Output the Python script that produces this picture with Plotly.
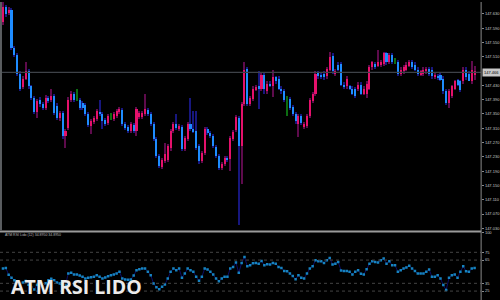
import plotly.graph_objects as go

# ---------------- data ----------------
open_ = [
    147.607, 147.649, 147.632, 147.641, 147.535, 147.516, 147.463, 147.424, 147.449, 147.471,
    147.427, 147.394, 147.355, 147.388, 147.377, 147.366, 147.394, 147.388, 147.399, 147.371,
    147.338, 147.352, 147.288, 147.310, 147.388, 147.405, 147.399, 147.388, 147.380, 147.374,
    147.349, 147.316, 147.327, 147.335, 147.355, 147.349, 147.332, 147.324, 147.341, 147.335,
    147.344, 147.355, 147.360, 147.321, 147.313, 147.302, 147.319, 147.302, 147.341, 147.341,
    147.349, 147.360, 147.349, 147.321, 147.280, 147.232, 147.202, 147.219, 147.221, 147.255,
    147.302, 147.321, 147.307, 147.313, 147.252, 147.280, 147.321, 147.307, 147.302, 147.260,
    147.219, 147.241, 147.307, 147.296, 147.288, 147.257, 147.232, 147.199, 147.210, 147.227,
    147.224, 147.280, 147.305, 147.338, 147.260, 147.377, 147.477, 147.377, 147.391, 147.419,
    147.427, 147.419, 147.460, 147.413, 147.435, 147.427, 147.452, 147.449, 147.421, 147.413,
    147.388, 147.391, 147.369, 147.349, 147.321, 147.344, 147.313, 147.316, 147.344, 147.385,
    147.405, 147.466, 147.460, 147.463, 147.455, 147.474, 147.513, 147.463, 147.488, 147.491,
    147.432, 147.427, 147.427, 147.421, 147.419, 147.419, 147.432, 147.407, 147.405, 147.421,
    147.480, 147.491, 147.485, 147.488, 147.491, 147.519, 147.496, 147.516, 147.502, 147.496,
    147.463, 147.469, 147.474, 147.485, 147.496, 147.488, 147.474, 147.460, 147.463, 147.469,
    147.477, 147.474, 147.455, 147.457, 147.460, 147.449, 147.413, 147.380, 147.399, 147.421,
    147.444, 147.441, 147.441, 147.474, 147.463, 147.441, 147.460,
]
close = [
    147.649, 147.630, 147.641, 147.535, 147.516, 147.463, 147.421, 147.449, 147.471, 147.427,
    147.394, 147.355, 147.385, 147.377, 147.366, 147.394, 147.385, 147.399, 147.352, 147.338,
    147.352, 147.288, 147.302, 147.388, 147.405, 147.388, 147.399, 147.366, 147.366, 147.349,
    147.319, 147.330, 147.338, 147.357, 147.349, 147.330, 147.321, 147.344, 147.341, 147.349,
    147.357, 147.363, 147.321, 147.310, 147.302, 147.321, 147.302, 147.363, 147.352, 147.352,
    147.363, 147.349, 147.321, 147.280, 147.232, 147.205, 147.221, 147.238, 147.260, 147.302,
    147.321, 147.310, 147.316, 147.252, 147.282, 147.321, 147.307, 147.302, 147.255, 147.219,
    147.241, 147.307, 147.296, 147.288, 147.260, 147.232, 147.199, 147.210, 147.227, 147.221,
    147.282, 147.299, 147.341, 147.260, 147.377, 147.474, 147.377, 147.394, 147.421, 147.424,
    147.419, 147.460, 147.419, 147.435, 147.430, 147.452, 147.441, 147.421, 147.413, 147.388,
    147.388, 147.366, 147.349, 147.330, 147.344, 147.324, 147.321, 147.344, 147.388, 147.405,
    147.463, 147.455, 147.455, 147.452, 147.477, 147.510, 147.469, 147.471, 147.474, 147.432,
    147.427, 147.449, 147.421, 147.407, 147.399, 147.432, 147.407, 147.421, 147.435, 147.482,
    147.494, 147.482, 147.496, 147.496, 147.519, 147.494, 147.516, 147.496, 147.502, 147.463,
    147.474, 147.482, 147.488, 147.496, 147.482, 147.474, 147.463, 147.469, 147.474, 147.477,
    147.463, 147.455, 147.460, 147.452, 147.446, 147.413, 147.380, 147.413, 147.427, 147.441,
    147.432, 147.416, 147.474, 147.452, 147.441, 147.474, 147.469,
]
high = [
    147.663, 147.655, 147.649, 147.646, 147.541, 147.521, 147.469, 147.457, 147.496, 147.477,
    147.432, 147.399, 147.391, 147.396, 147.382, 147.402, 147.399, 147.421, 147.405, 147.380,
    147.357, 147.357, 147.307, 147.396, 147.413, 147.410, 147.419, 147.394, 147.385, 147.380,
    147.355, 147.335, 147.344, 147.363, 147.388, 147.355, 147.338, 147.349, 147.352, 147.355,
    147.363, 147.369, 147.366, 147.327, 147.319, 147.327, 147.324, 147.369, 147.357, 147.357,
    147.405, 147.366, 147.355, 147.327, 147.285, 147.238, 147.227, 147.269, 147.266, 147.307,
    147.327, 147.349, 147.321, 147.319, 147.288, 147.327, 147.394, 147.357, 147.357, 147.266,
    147.246, 147.313, 147.313, 147.302, 147.294, 147.263, 147.238, 147.216, 147.232, 147.232,
    147.288, 147.305, 147.346, 147.344, 147.382, 147.496, 147.482, 147.399, 147.427, 147.430,
    147.469, 147.466, 147.466, 147.441, 147.441, 147.474, 147.457, 147.455, 147.427, 147.419,
    147.399, 147.396, 147.374, 147.355, 147.349, 147.349, 147.327, 147.349, 147.394, 147.410,
    147.469, 147.471, 147.466, 147.469, 147.482, 147.524, 147.519, 147.477, 147.494, 147.496,
    147.438, 147.455, 147.432, 147.427, 147.424, 147.438, 147.438, 147.427, 147.441, 147.488,
    147.499, 147.496, 147.530, 147.502, 147.524, 147.524, 147.521, 147.521, 147.507, 147.502,
    147.480, 147.488, 147.494, 147.502, 147.502, 147.494, 147.480, 147.474, 147.480, 147.482,
    147.482, 147.480, 147.466, 147.463, 147.466, 147.455, 147.419, 147.419, 147.432, 147.446,
    147.449, 147.446, 147.480, 147.480, 147.469, 147.499, 147.485,
]
low = [
    147.599, 147.621, 147.627, 147.530, 147.510, 147.457, 147.413, 147.419, 147.444, 147.421,
    147.388, 147.349, 147.338, 147.369, 147.360, 147.360, 147.380, 147.382, 147.346, 147.332,
    147.330, 147.280, 147.255, 147.305, 147.382, 147.382, 147.385, 147.360, 147.360, 147.344,
    147.313, 147.294, 147.321, 147.330, 147.344, 147.307, 147.316, 147.319, 147.332, 147.330,
    147.338, 147.349, 147.316, 147.305, 147.296, 147.296, 147.296, 147.288, 147.335, 147.335,
    147.344, 147.344, 147.316, 147.274, 147.227, 147.199, 147.196, 147.213, 147.216, 147.246,
    147.296, 147.305, 147.302, 147.246, 147.246, 147.274, 147.302, 147.296, 147.249, 147.210,
    147.213, 147.235, 147.291, 147.282, 147.255, 147.227, 147.194, 147.194, 147.205, 147.216,
    147.191, 147.274, 147.299, 147.038, 147.155, 147.371, 147.371, 147.371, 147.385, 147.413,
    147.363, 147.413, 147.407, 147.407, 147.424, 147.396, 147.435, 147.416, 147.407, 147.382,
    147.344, 147.360, 147.344, 147.321, 147.285, 147.319, 147.307, 147.310, 147.338, 147.380,
    147.399, 147.449, 147.449, 147.446, 147.449, 147.469, 147.463, 147.457, 147.469, 147.427,
    147.421, 147.421, 147.416, 147.402, 147.394, 147.413, 147.402, 147.402, 147.394, 147.416,
    147.474, 147.477, 147.480, 147.482, 147.485, 147.488, 147.491, 147.491, 147.491, 147.457,
    147.457, 147.463, 147.469, 147.480, 147.477, 147.469, 147.457, 147.455, 147.457, 147.463,
    147.457, 147.449, 147.449, 147.446, 147.441, 147.407, 147.374, 147.366, 147.394, 147.416,
    147.427, 147.410, 147.435, 147.446, 147.441, 147.435, 147.446,
]
rsi = [
    54.0, 54.9, 46.0, 42.1, 39.1, 36.9, 34.8, 36.0, 38.0, 33.0,
    30.0, 27.0, 33.0, 32.0, 31.0, 35.0, 39.1, 41.0, 39.1, 36.0,
    34.8, 30.5, 33.0, 47.6, 48.5, 46.3, 46.3, 45.0, 43.4, 41.2,
    42.1, 42.8, 43.4, 45.5, 43.4, 41.2, 42.5, 44.2, 45.5, 46.3,
    47.6, 49.8, 41.2, 39.9, 39.5, 39.9, 45.0, 51.9, 53.2, 54.0,
    54.0, 49.8, 45.5, 34.8, 30.0, 27.5, 30.5, 33.5, 41.2, 49.8,
    54.0, 51.9, 54.0, 42.1, 47.6, 54.0, 51.9, 49.8, 43.4, 38.2,
    43.4, 54.0, 52.8, 49.8, 46.3, 41.2, 37.8, 41.2, 43.4, 43.4,
    54.0, 56.2, 61.7, 48.5, 61.3, 69.0, 57.0, 58.3, 60.9, 61.3,
    60.4, 63.9, 58.3, 59.6, 59.2, 61.3, 60.4, 56.2, 54.9, 51.0,
    50.6, 47.6, 44.6, 40.4, 45.5, 42.1, 41.2, 47.6, 54.0, 57.0,
    64.7, 63.4, 63.4, 61.3, 64.7, 67.7, 59.2, 60.4, 62.6, 51.5,
    51.0, 51.0, 49.8, 46.3, 49.8, 51.9, 47.2, 46.3, 53.2, 60.4,
    63.4, 62.6, 61.7, 64.7, 66.9, 60.4, 63.4, 58.3, 58.3, 49.8,
    51.9, 54.0, 55.3, 57.5, 54.0, 51.0, 47.6, 47.6, 47.6, 49.8,
    52.8, 43.4, 43.4, 45.5, 41.2, 32.7, 26.3, 42.1, 45.5, 46.3,
    42.1, 49.8, 57.0, 50.6, 49.8, 54.0, 54.9,
]
price_ticks = [147.630, 147.590, 147.550, 147.510, 147.430, 147.390, 147.350,
               147.310, 147.270, 147.230, 147.190, 147.150, 147.110, 147.070, 147.030]
rsi_ticks = [25, 35, 65, 75, 100]
rsi_levels = [25, 35, 65, 75]
last_price = 147.466
indicator_title = "ATM RSI Lido (12) 34.8950 34.8950"
watermark = "ATM RSI LIDO"

# ---------------- styles ----------------
BULL, BEAR, DOJI = "#e5116b", "#1e8cff", "#0d7a12"
BULL_W, BEAR_W, DOJI_W = "#5e0b4c", "#17177e", "#0d6e12"
W, H = 500, 300
X_END = 485 / W
MAIN_BOTTOM = (H - 230) / H
RSI_TOP = (H - 232) / H

n = len(close)
idx = list(range(n))
body_col, wick_col = [], []
for o, c in zip(open_, close):
    if c > o:
        body_col.append(BULL); wick_col.append(BULL_W)
    elif c < o:
        body_col.append(BEAR); wick_col.append(BEAR_W)
    else:
        body_col.append(DOJI); wick_col.append(DOJI_W)

body_base = [min(o, c) for o, c in zip(open_, close)]
body_h = [abs(c - o) for o, c in zip(open_, close)]
wick_h = [h - l for h, l in zip(high, low)]

fig = go.Figure()
fig.add_trace(go.Bar(x=idx, y=wick_h, base=low, width=0.38,
                     marker=dict(color=wick_col, line=dict(width=0)),
                     xaxis="x", yaxis="y", hoverinfo="skip"))
fig.add_trace(go.Bar(x=idx, y=body_h, base=body_base, width=0.72,
                     marker=dict(color=body_col, line=dict(width=0)),
                     xaxis="x", yaxis="y", hoverinfo="skip"))
fig.add_trace(go.Scatter(x=idx, y=rsi, mode="lines+markers",
                         line=dict(color="#0c0c66", width=1),
                         marker=dict(symbol="square", size=2.5, color="#1683c0", line=dict(width=0)),
                         xaxis="x2", yaxis="y2", hoverinfo="skip"))

shapes = []
# current price line
shapes.append(dict(type="line", xref="paper", yref="y", x0=0, x1=X_END,
                   y0=last_price, y1=last_price, line=dict(color="#3e4248", width=1.2)))
# RSI levels
for lv in rsi_levels:
    shapes.append(dict(type="line", xref="paper", yref="y2", x0=0, x1=X_END,
                       y0=lv, y1=lv, line=dict(color="#444444", width=1, dash="dot")))
# panel separator
shapes.append(dict(type="line", xref="paper", yref="paper", x0=0, x1=X_END,
                   y0=(H - 231) / H, y1=(H - 231) / H, line=dict(color="#9a9a9a", width=2)))
# left border of main panel
shapes.append(dict(type="line", xref="paper", yref="paper", x0=1 / W, x1=1 / W,
                   y0=MAIN_BOTTOM, y1=1, line=dict(color="#5a5d60", width=2)))
# right scale line
shapes.append(dict(type="line", xref="paper", yref="paper", x0=X_END, x1=X_END,
                   y0=0, y1=1, line=dict(color="#8a8a8a", width=1)))

annotations = [
    dict(text=f"{last_price:.3f}", x=X_END + 1 / W, y=last_price, xref="paper", yref="y",
         xanchor="left", yanchor="middle", showarrow=False, bgcolor="#c8c8c8",
         font=dict(size=4, color="#000000", family="Arial"), borderpad=1),
    dict(text=indicator_title, x=3 / W, y=(H - 235) / H, xref="paper", yref="paper",
         xanchor="left", yanchor="middle", showarrow=False,
         font=dict(size=3.5, color="#b8b8b8", family="Arial")),
    dict(text=watermark, x=9 / W, y=(H - 286.5) / H, xref="paper", yref="paper",
         xanchor="left", yanchor="middle", showarrow=False,
         font=dict(size=19.5, color="#ebebeb", family="Open Sans", weight=700,
                   shadow="1px 1px 1px #000000")),
]

axis_common = dict(showgrid=False, zeroline=False)
fig.update_layout(
    width=W, height=H, margin=dict(l=0, r=0, t=0, b=0),
    paper_bgcolor="#000000", plot_bgcolor="#000000",
    showlegend=False, barmode="overlay", bargap=0,
    xaxis=dict(domain=[0, X_END], range=[-1.05, 168.3], anchor="y",
               showticklabels=False, **axis_common),
    xaxis2=dict(domain=[0, X_END], range=[-1.05, 168.3], anchor="y2",
                showticklabels=False, matches="x", **axis_common),
    yaxis=dict(domain=[MAIN_BOTTOM, 1], range=[147.024, 147.663], side="right", anchor="x",
               tickvals=price_ticks, ticktext=[f"{t:.3f}" for t in price_ticks],
               ticks="outside", ticklen=2, tickcolor="#8a8a8a",
               tickfont=dict(size=4, color="#c8c8c8", family="Arial"), **axis_common),
    yaxis2=dict(domain=[0, RSI_TOP], range=[13.5, 100.6], side="right", anchor="x2",
                tickvals=rsi_ticks, ticktext=[str(t) for t in rsi_ticks],
                ticks="outside", ticklen=2, tickcolor="#8a8a8a",
                tickfont=dict(size=4, color="#c8c8c8", family="Arial"), **axis_common),
    shapes=shapes, annotations=annotations,
)

fig.write_html("out.html")
